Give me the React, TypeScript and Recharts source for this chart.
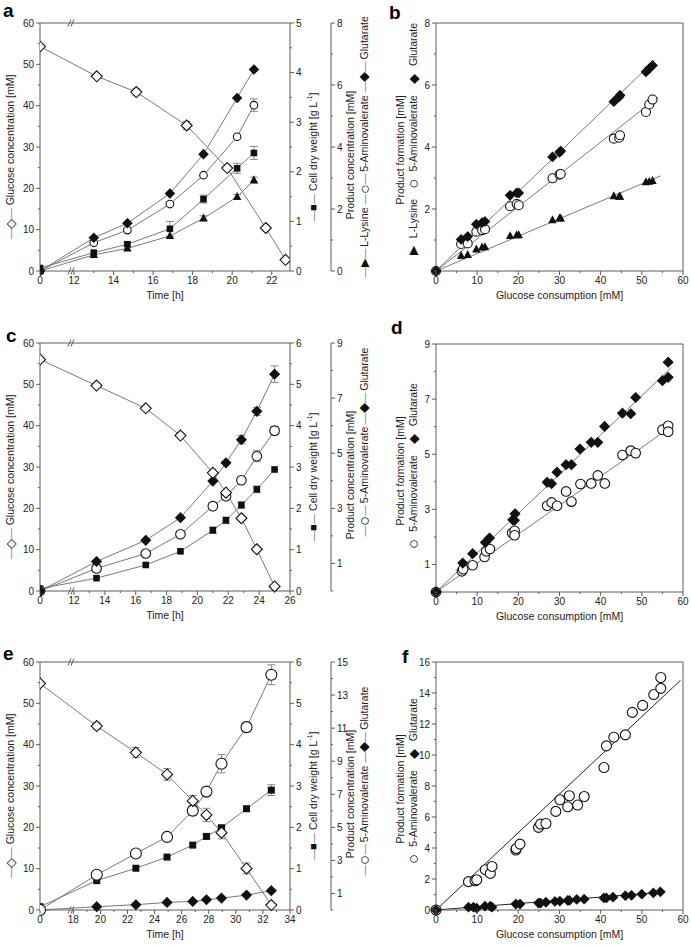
import React from 'react';
import {
  ComposedChart, Line, Scatter, XAxis, YAxis, ReferenceLine, ReferenceArea, ErrorBar,
} from 'recharts';

const FONT = '"Liberation Sans", Arial, Helvetica, sans-serif';
const AXIS = '#5c5c5c';
const CONN = '#7a7a7a';
const INK = '#111';
const TXT = '#222';

// ---- panel a: time course, three products ----
const A_T_GLC = [0, 13.15, 15.15, 17.7, 19.75, 21.7, 22.7];
const A_GLC = [54.3, 47.1, 43.3, 35.2, 24.9, 10.4, 2.7];
const A_GLC_ERR = [0, 0, 0.9, 1.0, 0.5, 0, 0];
const A_T = [0, 13.0, 14.7, 16.85, 18.55, 20.25, 21.1];
const A_CDW = [0.06, 0.37, 0.54, 0.85, 1.45, 2.07, 2.38];
const A_CDW_ERR = [0, 0, 0.04, 0.15, 0.08, 0.1, 0.13];
const A_LYS = [0, 0.52, 0.73, 1.13, 1.70, 2.39, 2.93];
const A_LYS_ERR = [0, 0, 0, 0, 0.08, 0.08, 0.1];
const A_AVA = [0, 0.91, 1.32, 2.16, 3.09, 4.33, 5.35];
const A_AVA_ERR = [0, 0, 0, 0.06, 0, 0, 0.2];
const A_GLUT = [0, 1.07, 1.54, 2.5, 3.77, 5.58, 6.5];
const A_GLUT_ERR = [0, 0, 0, 0, 0, 0, 0];

// ---- panel c ----
const C_T = [0, 13.46, 16.65, 18.9, 21.0, 21.85, 22.85, 23.85, 25.0];
const C_GLC = [56.0, 49.7, 44.2, 37.6, 28.6, 23.8, 17.6, 10.1, 1.1];
const C_GLC_ERR = [0, 0, 0.5, 0, 0, 0, 0, 0, 0];
const C_CDW = [0.06, 0.31, 0.63, 0.96, 1.47, 1.71, 2.08, 2.46, 2.94];
const C_CDW_ERR = [0, 0, 0, 0, 0.08, 0.08, 0.08, 0.08, 0];
const C_AVA = [0, 0.82, 1.36, 2.06, 3.08, 3.44, 4.02, 4.89, 5.82];
const C_AVA_ERR = [0, 0, 0, 0, 0, 0, 0, 0.2, 0.15];
const C_GLUT = [0, 1.07, 1.84, 2.66, 3.99, 4.65, 5.49, 6.52, 7.87];
const C_GLUT_ERR = [0, 0, 0, 0, 0, 0, 0.15, 0.15, 0.3];

// ---- panel e ----
const E_T = [0, 19.73, 22.62, 24.92, 26.82, 27.83, 28.94, 30.79, 32.62];
const E_GLC = [54.8, 44.5, 38.1, 32.8, 26.4, 23.0, 18.7, 10.05, 1.2];
const E_GLC_ERR = [0, 0.8, 1.2, 1.4, 1.3, 1.6, 1.5, 1.3, 0];
const E_CDW = [0.08, 0.71, 1.01, 1.28, 1.57, 1.78, 1.99, 2.45, 2.90];
const E_CDW_ERR = [0, 0, 0, 0, 0, 0.05, 0.05, 0.06, 0.13];
const E_AVA = [0, 2.13, 3.42, 4.42, 6.01, 7.16, 8.85, 11.06, 14.23];
const E_AVA_ERR = [0, 0, 0, 0, 0.3, 0, 0.55, 0.3, 0.6];
const E_GLUT = [0, 0.2, 0.32, 0.46, 0.52, 0.62, 0.72, 0.90, 1.17];
const E_GLUT_ERR = [0, 0, 0, 0, 0, 0, 0, 0, 0];

// ---- panel b: yields ----
const B_X = [0, 6.1, 7.7, 9.8, 11.2, 11.9, 18.0, 19.6, 20.1, 28.3, 30.0, 30.3, 43.2, 44.5, 44.7, 51.0, 51.8, 52.6];
const B_GLUT = [0, 1.02, 1.11, 1.51, 1.56, 1.60, 2.44, 2.52, 2.52, 3.68, 3.83, 3.87, 5.46, 5.62, 5.67, 6.42, 6.53, 6.63];
const B_AVA = [0, 0.87, 0.89, 1.27, 1.32, 1.35, 2.09, 2.16, 2.12, 2.99, 3.11, 3.13, 4.27, 4.30, 4.38, 5.13, 5.37, 5.53];
const B_LYS = [0, 0.49, 0.52, 0.70, 0.76, 0.77, 1.13, 1.16, 1.16, 1.64, 1.70, 1.70, 2.42, 2.40, 2.40, 2.87, 2.88, 2.91];
const B_FIT_X = [53.2, 53.9, 54.6];
const B_FIT_Y = [6.80, 5.60, 3.07];

// ---- panel d ----
const D_GLUT_X = [0, 6.5, 8.9, 12.0, 13.0, 18.65, 19.06, 19.2, 27.0, 28.06, 29.4, 31.6, 32.9, 34.96, 37.7, 39.3, 40.96, 45.3, 47.3, 48.5, 55.0, 56.4, 56.4];
const D_GLUT = [0, 1.05, 1.39, 1.80, 1.96, 2.62, 2.60, 2.84, 3.98, 3.93, 4.35, 4.62, 4.62, 5.19, 5.43, 5.43, 6.01, 6.49, 6.47, 7.06, 7.67, 7.79, 8.34];
const D_AVA_X = [0, 6.3, 6.6, 8.9, 11.8, 12.2, 13.1, 18.5, 19.1, 19.1, 27.0, 28.1, 29.4, 31.6, 32.9, 35.1, 37.7, 39.3, 41.0, 45.3, 47.3, 48.5, 55.0, 56.4, 56.4];
const D_AVA = [0, 0.75, 0.83, 0.97, 1.27, 1.48, 1.56, 2.14, 2.22, 2.06, 3.13, 3.25, 3.13, 3.65, 3.28, 3.92, 3.94, 4.23, 3.94, 4.97, 5.13, 5.04, 5.89, 6.03, 5.82];
const D_FIT_X = [57.2, 56.9];
const D_FIT_Y = [8.15, 5.97];

// ---- panel f ----
const F_AVA_X = [0, 7.9, 9.5, 9.9, 12.0, 13.2, 13.6, 19.4, 19.5, 20.4, 24.9, 25.4, 26.7, 29.1, 30.1, 32.0, 32.4, 34.4, 36.0, 40.8, 41.4, 43.2, 46.0, 47.7, 50.2, 52.9, 54.6, 54.6];
const F_AVA = [0, 1.83, 1.89, 1.95, 2.6, 2.36, 2.81, 3.87, 3.97, 4.25, 5.33, 5.54, 5.58, 6.36, 7.11, 6.66, 7.37, 6.77, 7.32, 9.19, 10.59, 11.15, 11.3, 12.75, 13.2, 13.9, 14.3, 15.0];
const F_GLUT_X = [0, 7.9, 9.1, 9.9, 11.9, 13.2, 13.6, 19.4, 20.4, 24.9, 25.4, 26.7, 28.9, 30.1, 32.0, 32.4, 34.2, 36.0, 40.8, 41.4, 43.0, 46.0, 47.5, 50.0, 52.8, 54.5];
const F_GLUT = [0, 0.18, 0.18, 0.12, 0.25, 0.25, 0.18, 0.38, 0.38, 0.45, 0.45, 0.5, 0.55, 0.57, 0.62, 0.62, 0.68, 0.7, 0.78, 0.78, 0.83, 0.92, 0.95, 1.02, 1.1, 1.17];
const F_FIT_X = [59.4, 54.6];
const F_FIT_Y = [14.82, 1.14];

// ---- ticks ----
const GLC_TICKS = [0, 5, 10, 15, 20, 25, 30, 35, 40, 45, 50, 55, 60];
const GLC_MAJOR = [0, 10, 20, 30, 40, 50, 60];
const A_X_TICKS = [0, 12, 13, 14, 15, 16, 17, 18, 19, 20, 21, 22];
const A_X_MAJOR = [0, 12, 14, 16, 18, 20, 22];
const C_X_TICKS = [0, 12, 13, 14, 15, 16, 17, 18, 19, 20, 21, 22, 23, 24, 25, 26];
const C_X_MAJOR = [0, 12, 14, 16, 18, 20, 22, 24, 26];
const E_X_TICKS = [0, 18, 19, 20, 21, 22, 23, 24, 25, 26, 27, 28, 29, 30, 31, 32, 33, 34];
const E_X_MAJOR = [0, 18, 20, 22, 24, 26, 28, 30, 32, 34];
const A_CDW_TICKS = [0, 0.5, 1, 1.5, 2, 2.5, 3, 3.5, 4, 4.5, 5];
const A_CDW_MAJOR = [0, 1, 2, 3, 4, 5];
const CE_CDW_TICKS = [0, 0.5, 1, 1.5, 2, 2.5, 3, 3.5, 4, 4.5, 5, 5.5, 6];
const CE_CDW_MAJOR = [0, 1, 2, 3, 4, 5, 6];
const A_P_TICKS = [0, 1, 2, 3, 4, 5, 6, 7, 8];
const A_P_MAJOR = [0, 2, 4, 6, 8];
const C_P_TICKS = [0, 1, 2, 3, 4, 5, 6, 7, 8, 9];
const C_P_MAJOR = [1, 3, 5, 7, 9];
const E_P_TICKS = [0, 1, 2, 3, 4, 5, 6, 7, 8, 9, 10, 11, 12, 13, 14, 15];
const E_P_MAJOR = [1, 3, 5, 7, 9, 11, 13, 15];
const SC_X_TICKS = [0, 5, 10, 15, 20, 25, 30, 35, 40, 45, 50, 55, 60];
const SC_X_MAJOR = [0, 10, 20, 30, 40, 50, 60];
const B_Y_TICKS = [0, 1, 2, 3, 4, 5, 6, 7, 8];
const B_Y_MAJOR = [2, 4, 6, 8];
const D_Y_TICKS = [0, 1, 2, 3, 4, 5, 6, 7, 8, 9];
const D_Y_MAJOR = [1, 3, 5, 7, 9];
const F_Y_TICKS = [0, 1, 2, 3, 4, 5, 6, 7, 8, 9, 10, 11, 12, 13, 14, 15, 16];
const F_Y_MAJOR = [0, 2, 4, 6, 8, 10, 12, 14, 16];

type Kind = 'odiamond' | 'diamond' | 'ocircle' | 'square' | 'triangle';

function Marker({ kind, cx, cy, r }: { kind: Kind; cx: number; cy: number; r: number }) {
  if (cx == null || cy == null || Number.isNaN(cx) || Number.isNaN(cy)) return <g />;
  const sw = 1.1;
  if (kind === 'odiamond' || kind === 'diamond') {
    const d = `M${cx},${cy - r}L${cx + r},${cy}L${cx},${cy + r}L${cx - r},${cy}Z`;
    return <path d={d} fill={kind === 'diamond' ? INK : '#fff'} stroke={INK} strokeWidth={sw} />;
  }
  if (kind === 'ocircle') return <circle cx={cx} cy={cy} r={r} fill="#fff" stroke={INK} strokeWidth={sw} />;
  if (kind === 'square') return <rect x={cx - r} y={cy - r} width={2 * r} height={2 * r} fill={INK} />;
  const d = `M${cx},${cy - r * 1.15}L${cx + r},${cy + r * 0.75}L${cx - r},${cy + r * 0.75}Z`;
  return <path d={d} fill={INK} />;
}

const dotOf = (kind: Kind, r: number) => (p: any) => (
  <Marker key={`m${p.index}`} kind={kind} cx={p.cx} cy={p.cy} r={r} />
);

const tickFn = (side: 'left' | 'right' | 'bottom', majors: number[], fmt: (v: number) => string = (v) => String(v)) =>
  (p: any) => {
    const v = Number(p.payload.value);
    const major = majors.some((m) => Math.abs(m - v) < 1e-6);
    const len = major ? 4 : 2;
    const { x, y } = p;
    if (side === 'bottom') {
      return (
        <g>
          <line x1={x} x2={x} y1={y} y2={y + len} stroke={AXIS} />
          {major && (
            <text x={x} y={y + 13} textAnchor="middle" fontSize={10} fill={TXT} fontFamily={FONT}>{fmt(v)}</text>
          )}
        </g>
      );
    }
    const dir = side === 'left' ? -1 : 1;
    return (
      <g>
        <line x1={x} x2={x + dir * len} y1={y} y2={y} stroke={AXIS} />
        {major && (
          <text x={x + dir * 6} y={y + 3.5} textAnchor={side === 'left' ? 'end' : 'start'} fontSize={10} fill={TXT} fontFamily={FONT}>
            {fmt(v)}
          </text>
        )}
      </g>
    );
  };

type Piece = { s: string; fill?: string; dx?: number; dy?: number; fs?: number };

const rotLabel = (dx: number, shift: number, pieces: Piece[]) => (p: any) => {
  const vb = p.viewBox;
  const x = vb.x + dx;
  const y = vb.y + vb.height / 2 + shift;
  return (
    <text x={x} y={y} transform={`rotate(-90 ${x} ${y})`} textAnchor="middle" dominantBaseline="central"
      fontSize={10.5} fontFamily={FONT} fill={TXT}>
      {pieces.map((q, i) => (
        <tspan key={i} fill={q.fill} dx={q.dx} dy={q.dy} fontSize={q.fs}>{q.s}</tspan>
      ))}
    </text>
  );
};

const xTitle = (txt: string) => (p: any) => {
  const vb = p.viewBox;
  return (
    <text x={vb.x + vb.width / 2} y={vb.y + 28} textAnchor="middle" fontSize={10.5} fontFamily={FONT} fill={TXT}>{txt}</text>
  );
};

const dash: Piece = { s: '—', fill: CONN };
const mk = (s: string, fs = 12.5): Piece => ({ s, fill: INK, fs });

const GLC_LABEL: Piece[] = [dash, mk('◇', 13), dash, { s: 'Glucose concentration [mM]', dx: 3 }];
const CDW_LABEL: Piece[] = [dash, mk('■', 11), dash, { s: 'Cell dry weight [g L', dx: 3 }, { s: '-1', dy: -4, fs: 7 }, { s: ']', dy: 4 }];
const P_LABEL: Piece[] = [{ s: 'Product concentration [mM]' }];
const A_LEGEND: Piece[] = [dash, mk('▶', 11), dash, { s: 'L-Lysine', dx: 2 }, { ...dash, dx: 3 }, mk('○', 16), dash,
  { s: '5-Aminovalerate', dx: 2 }, { ...dash, dx: 3 }, mk('◆'), dash, { s: 'Glutarate', dx: 2 }];
const CE_LEGEND: Piece[] = [dash, mk('○', 17), dash, { s: '5-Aminovalerate', dx: 2 }, { ...dash, dx: 3 }, mk('◆'), dash, { s: 'Glutarate', dx: 2 }];
const PF_LABEL: Piece[] = [{ s: 'Product formation [mM]' }];
const B_LEGEND: Piece[] = [mk('▶', 12), { s: 'L-Lysine', dx: 8 }, { ...mk('○', 17), dx: 10 }, { s: '5-Aminovalerate', dx: 7 },
  { ...mk('◆', 13), dx: 11 }, { s: 'Glutarate', dx: 8 }];
const DF_LEGEND: Piece[] = [mk('○', 17), { s: '5-Aminovalerate', dx: 7 }, { ...mk('◆', 13), dx: 11 }, { s: 'Glutarate', dx: 8 }];

type TSeries = { t: number[]; y: number[]; e: number[]; axis: 'g' | 'c' | 'p'; kind: Kind; r: number };

type TimeCfg = {
  z: number; xMax: number; xTicks: number[]; xMajor: number[];
  cdwMax: number; cdwTicks: number[]; cdwMajor: number[];
  pMax: number; pTicks: number[]; pMajor: number[];
  series: TSeries[]; legend: Piece[]; legendShift: number;
};

const PLOT_W = 250;
const PLOT_H = 248;

function TimePanel({ cfg }: { cfg: TimeCfg }) {
  const { z, xMax } = cfg;
  const s = PLOT_W / (xMax - z);
  const bx = (t: number) => (t === 0 ? z : t);
  const gy = 60 / PLOT_H;
  const slash = (px: number, yv: number) => [
    { x: z + (px - 1.5) / s, y: yv - 3.5 * gy },
    { x: z + (px + 1.5) / s, y: yv + 3.5 * gy },
  ];
  return (
    <ComposedChart width={400} height={305} margin={{ top: 23, right: 24, bottom: 0, left: 0 }}>
      <XAxis type="number" dataKey="x" domain={[z, xMax]} ticks={cfg.xTicks.map(bx)} interval={0}
        tickSize={0} tickMargin={0} height={34} axisLine={{ stroke: AXIS }} allowDataOverflow
        tick={tickFn('bottom', cfg.xMajor.map(bx), (v) => (v === z ? '0' : String(v)))}
        label={xTitle('Time [h]')} />
      <YAxis yAxisId="g" dataKey="y" type="number" domain={[0, 60]} ticks={GLC_TICKS} interval={0} width={40}
        tickSize={0} tickMargin={0} axisLine={{ stroke: AXIS }} tick={tickFn('left', GLC_MAJOR)}
        label={rotLabel(10, 10, GLC_LABEL)} />
      <YAxis yAxisId="c" dataKey="y" type="number" orientation="right" domain={[0, cfg.cdwMax]} ticks={cfg.cdwTicks}
        interval={0} width={41} tickSize={0} tickMargin={0} axisLine={{ stroke: AXIS }}
        tick={tickFn('right', cfg.cdwMajor)} label={rotLabel(23, 10, CDW_LABEL)} />
      <YAxis yAxisId="p" dataKey="y" type="number" orientation="right" domain={[0, cfg.pMax]} ticks={cfg.pTicks}
        interval={0} width={45} tickSize={0} tickMargin={0} axisLine={{ stroke: AXIS }}
        tick={tickFn('right', cfg.pMajor)}
        label={(p: any) => (
          <g>
            {rotLabel(19, 8, P_LABEL)(p)}
            {rotLabel(33, cfg.legendShift, cfg.legend)(p)}
          </g>
        )} />
      <ReferenceLine yAxisId="g" y={60} stroke={AXIS} ifOverflow="visible" />
      {cfg.series.map((sr, i) => (
        <Line key={i} data={sr.t.map((t, j) => ({ x: bx(t), y: sr.y[j], e: sr.e[j] }))} dataKey="y"
          yAxisId={sr.axis} type="linear" stroke={CONN} strokeWidth={1} dot={dotOf(sr.kind, sr.r)}
          activeDot={false} isAnimationActive={false}>
          <ErrorBar dataKey="e" direction="y" width={4} stroke="#888" strokeWidth={1} />
        </Line>
      ))}
      <ReferenceArea yAxisId="g" x1={z + 29 / s} x2={z + 33 / s} y1={-3} y2={63} fill="#fff" fillOpacity={1}
        stroke="none" ifOverflow="visible" />
      {[29.5, 32.5].flatMap((px) => [0, 60].map((yv) => (
        <ReferenceLine key={`${px}-${yv}`} yAxisId="g" segment={slash(px, yv)} stroke={AXIS} ifOverflow="visible" />
      )))}
    </ComposedChart>
  );
}

type SSeries = { x: number[]; y: number[]; kind: Kind; r: number };
type ScatterCfg = {
  yMax: number; yTicks: number[]; yMajor: number[]; legend: Piece[]; legendShift: number;
  fitX: number[]; fitY: number[]; fitColor: string; series: SSeries[];
};

function ScatterPanel({ cfg }: { cfg: ScatterCfg }) {
  return (
    <ComposedChart width={341} height={305} margin={{ top: 23, right: 8, bottom: 0, left: 0 }}>
      <XAxis type="number" dataKey="x" domain={[0, 60]} ticks={SC_X_TICKS} interval={0} tickSize={0} tickMargin={0}
        height={34} axisLine={{ stroke: AXIS }} tick={tickFn('bottom', SC_X_MAJOR)}
        label={xTitle('Glucose consumption [mM]')} />
      <YAxis type="number" dataKey="y" domain={[0, cfg.yMax]} ticks={cfg.yTicks} interval={0} width={86}
        tickSize={0} tickMargin={0} axisLine={{ stroke: AXIS }} tick={tickFn('left', cfg.yMajor)}
        label={(p: any) => (
          <g>
            {rotLabel(50, 3, PF_LABEL)(p)}
            {rotLabel(63, cfg.legendShift, cfg.legend)(p)}
          </g>
        )} />
      <ReferenceLine y={cfg.yMax} stroke={AXIS} ifOverflow="visible" />
      <ReferenceLine x={60} stroke={AXIS} ifOverflow="visible" />
      {cfg.fitX.map((fx, i) => (
        <Line key={`fit${i}`} data={[{ x: 0, y: 0 }, { x: fx, y: cfg.fitY[i] }]} dataKey="y" type="linear"
          stroke={cfg.fitColor} strokeWidth={1} dot={false} activeDot={false} isAnimationActive={false} />
      ))}
      {cfg.series.map((sr, i) => (
        <Scatter key={`s${i}`} data={sr.x.map((x, j) => ({ x, y: sr.y[j] }))} dataKey="y" isAnimationActive={false}
          shape={(p: any) => <Marker kind={sr.kind} cx={p.cx} cy={p.cy} r={sr.r} />} />
      ))}
    </ComposedChart>
  );
}

const PANEL_A: TimeCfg = {
  z: 10.28, xMax: 22.925, xTicks: A_X_TICKS, xMajor: A_X_MAJOR,
  cdwMax: 5, cdwTicks: A_CDW_TICKS, cdwMajor: A_CDW_MAJOR,
  pMax: 8, pTicks: A_P_TICKS, pMajor: A_P_MAJOR, legend: A_LEGEND, legendShift: 0,
  series: [
    { t: A_T, y: A_CDW, e: A_CDW_ERR, axis: 'c', kind: 'square', r: 3.3 },
    { t: A_T, y: A_LYS, e: A_LYS_ERR, axis: 'p', kind: 'triangle', r: 4.2 },
    { t: A_T, y: A_AVA, e: A_AVA_ERR, axis: 'p', kind: 'ocircle', r: 3.8 },
    { t: A_T, y: A_GLUT, e: A_GLUT_ERR, axis: 'p', kind: 'diamond', r: 4.5 },
    { t: A_T_GLC, y: A_GLC, e: A_GLC_ERR, axis: 'g', kind: 'odiamond', r: 5.5 },
  ],
};

const PANEL_C: TimeCfg = {
  z: 9.796, xMax: 26, xTicks: C_X_TICKS, xMajor: C_X_MAJOR,
  cdwMax: 6, cdwTicks: CE_CDW_TICKS, cdwMajor: CE_CDW_MAJOR,
  pMax: 9, pTicks: C_P_TICKS, pMajor: C_P_MAJOR, legend: CE_LEGEND, legendShift: -25,
  series: [
    { t: C_T, y: C_CDW, e: C_CDW_ERR, axis: 'c', kind: 'square', r: 3.3 },
    { t: C_T, y: C_AVA, e: C_AVA_ERR, axis: 'p', kind: 'ocircle', r: 4.8 },
    { t: C_T, y: C_GLUT, e: C_GLUT_ERR, axis: 'p', kind: 'diamond', r: 4.8 },
    { t: C_T, y: C_GLC, e: C_GLC_ERR, axis: 'g', kind: 'odiamond', r: 5.5 },
  ],
};

const PANEL_E: TimeCfg = {
  z: 15.54, xMax: 34, xTicks: E_X_TICKS, xMajor: E_X_MAJOR,
  cdwMax: 6, cdwTicks: CE_CDW_TICKS, cdwMajor: CE_CDW_MAJOR,
  pMax: 15, pTicks: E_P_TICKS, pMajor: E_P_MAJOR, legend: CE_LEGEND, legendShift: -5,
  series: [
    { t: E_T, y: E_CDW, e: E_CDW_ERR, axis: 'c', kind: 'square', r: 3.5 },
    { t: E_T, y: E_GLUT, e: E_GLUT_ERR, axis: 'p', kind: 'diamond', r: 4.8 },
    { t: E_T, y: E_AVA, e: E_AVA_ERR, axis: 'p', kind: 'ocircle', r: 5.5 },
    { t: E_T, y: E_GLC, e: E_GLC_ERR, axis: 'g', kind: 'odiamond', r: 5.5 },
  ],
};

const PANEL_B: ScatterCfg = {
  yMax: 8, yTicks: B_Y_TICKS, yMajor: B_Y_MAJOR, legend: B_LEGEND, legendShift: -8,
  fitX: B_FIT_X, fitY: B_FIT_Y, fitColor: CONN,
  series: [
    { x: B_X, y: B_LYS, kind: 'triangle', r: 4.2 },
    { x: B_X, y: B_AVA, kind: 'ocircle', r: 4.5 },
    { x: B_X, y: B_GLUT, kind: 'diamond', r: 4.6 },
  ],
};

const PANEL_D: ScatterCfg = {
  yMax: 9, yTicks: D_Y_TICKS, yMajor: D_Y_MAJOR, legend: DF_LEGEND, legendShift: -2,
  fitX: D_FIT_X, fitY: D_FIT_Y, fitColor: CONN,
  series: [
    { x: D_AVA_X, y: D_AVA, kind: 'ocircle', r: 4.8 },
    { x: D_GLUT_X, y: D_GLUT, kind: 'diamond', r: 4.8 },
  ],
};

const PANEL_F: ScatterCfg = {
  yMax: 16, yTicks: F_Y_TICKS, yMajor: F_Y_MAJOR, legend: DF_LEGEND, legendShift: -5,
  fitX: F_FIT_X, fitY: F_FIT_Y, fitColor: '#222',
  series: [
    { x: F_AVA_X, y: F_AVA, kind: 'ocircle', r: 5 },
    { x: F_GLUT_X, y: F_GLUT, kind: 'diamond', r: 4.6 },
  ],
};

const LETTERS = [
  { s: 'a', x: 3, y: 17 }, { s: 'b', x: 389, y: 19 },
  { s: 'c', x: 6, y: 342 }, { s: 'd', x: 391, y: 334 },
  { s: 'e', x: 3, y: 660 }, { s: 'f', x: 402, y: 663 },
];

const at = (left: number, top: number): React.CSSProperties => ({ position: 'absolute', left, top });

export default function App() {
  return (
    <div style={{ position: 'absolute', left: 0, top: 0, width: 691, height: 945, background: '#fff', fontFamily: FONT, overflow: 'hidden' }}>
      <div style={at(0, 0)}><TimePanel cfg={PANEL_A} /></div>
      <div style={at(0, 320)}><TimePanel cfg={PANEL_C} /></div>
      <div style={at(0, 639)}><TimePanel cfg={PANEL_E} /></div>
      <div style={at(350, 0)}><ScatterPanel cfg={PANEL_B} /></div>
      <div style={at(350, 321)}><ScatterPanel cfg={PANEL_D} /></div>
      <div style={at(350, 639)}><ScatterPanel cfg={PANEL_F} /></div>
      <svg width={691} height={945} style={{ position: 'absolute', left: 0, top: 0, pointerEvents: 'none' }}>
        {LETTERS.map((l) => (
          <text key={l.s} x={l.x} y={l.y} fontSize={19} fontWeight="bold" fontFamily={FONT} fill="#000">{l.s}</text>
        ))}
      </svg>
    </div>
  );
}
